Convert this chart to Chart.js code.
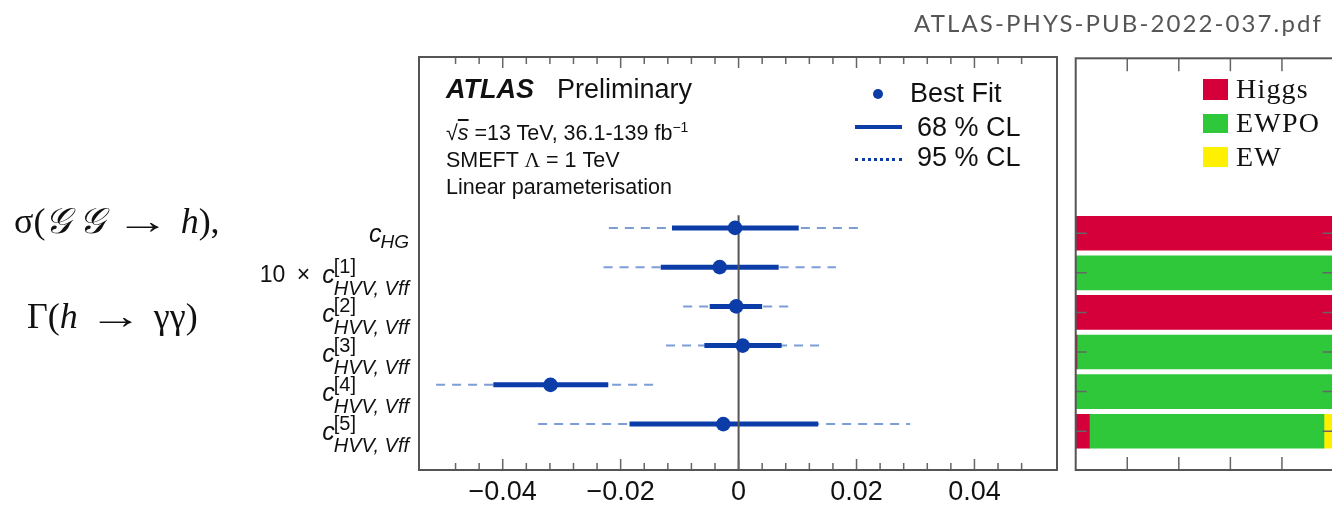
<!DOCTYPE html>
<html>
<head>
<meta charset="utf-8">
<script src="https://cdn.jsdelivr.net/npm/chart.js@4.4.1/dist/chart.umd.min.js"></script>
<style>
html, body { margin: 0; padding: 0; background: #fff; overflow: hidden; width: 1332px; height: 506px; }
#main { position: absolute; left: 0; top: 0; }
#share { position: absolute; left: 1040px; top: 0; }
.t { position: absolute; white-space: nowrap; line-height: 1; color: #111; font-family: "Liberation Sans", Arial, sans-serif; }
.serif { font-family: "Liberation Serif", "DejaVu Serif", serif; }
.box { position: absolute; }
.arr { display: inline-block; transform: scaleX(1.5); margin: 0 20px; }
.leg { font-size: 28px; letter-spacing: 1.2px; color: #111; }
</style>
</head>
<body>
<canvas id="main" width="1332" height="520"></canvas>
<canvas id="share" width="310" height="520"></canvas>

<div class="t" style="right:9px; top:11px; font-family:Lato,'Open Sans',sans-serif; font-size:24px; letter-spacing:2.1px; color:#555;">ATLAS-PHYS-PUB-2022-037.pdf</div>

<div class="t serif" style="left:14px; top:203px; font-size:36px;">σ(<i>𝒢</i>&#8201;<i>𝒢</i><span class="arr">&#8594;</span><i>h</i>),</div>
<div class="t serif" style="left:27px; top:298px; font-size:36px;">Γ(<i>h</i><span class="arr">&#8594;</span>γγ)</div>

<div class="t" style="left:446px; top:76px; font-size:27px; font-weight:bold; font-style:italic;">ATLAS</div>
<div class="t" style="left:557px; top:76px; font-size:27px;">Preliminary</div>
<div class="t" style="left:446px; top:120px; font-size:21.5px;">√<i style="text-decoration:overline;">s</i> =13 TeV, 36.1-139 fb<sup style="font-size:14px; vertical-align:8px;">−1</sup></div>
<div class="t" style="left:446px; top:150px; font-size:21.5px;">SMEFT <span class="serif">Λ</span> = 1 TeV</div>
<div class="t" style="left:446px; top:177px; font-size:21.5px;">Linear parameterisation</div>

<div class="box" style="left:873px; top:89px; width:10px; height:10px; border-radius:50%; background:#0b3ca8;"></div>
<div class="t" style="left:910px; top:80px; font-size:27px;">Best Fit</div>
<div class="box" style="left:855px; top:125px; width:47px; height:4px; background:#0b3ca8;"></div>
<div class="t" style="left:917px; top:114px; font-size:27px;">68 % CL</div>
<div class="box" style="left:855px; top:158px; width:47px; height:0; border-top:3px dotted #0b3ca8;"></div>
<div class="t" style="left:917px; top:144px; font-size:27px;">95 % CL</div>

<div class="box" style="left:1203px; top:79px; width:25px; height:21px; background:#d5003a;"></div>
<div class="t serif leg" style="left:1236px; top:75px;">Higgs</div>
<div class="box" style="left:1203px; top:114px; width:25px; height:19px; background:#2ec83a;"></div>
<div class="t serif leg" style="left:1236px; top:109px;">EWPO</div>
<div class="box" style="left:1203px; top:147px; width:25px; height:20px; background:#fff000;"></div>
<div class="t serif leg" style="left:1236px; top:143px;">EW</div>

<script>
// fitted Wilson coefficients, one entry per row (top to bottom)
const paramPrefix = ['', '10\u2002\u00d7', '', '', '', ''];
const paramSup = ['', '[1]', '[2]', '[3]', '[4]', '[5]'];
const paramSub = ['HG', 'HVV, Vff', 'HVV, Vff', 'HVV, Vff', 'HVV, Vff', 'HVV, Vff'];

const bestFit = [-0.0006, -0.0032, -0.0004, 0.0007, -0.0319, -0.0026];
const lo68 = [-0.0113, -0.0132, -0.0049, -0.0058, -0.0416, -0.0185];
const hi68 = [0.0102, 0.0068, 0.0040, 0.0073, -0.0221, 0.0135];
const lo95 = [-0.0220, -0.0229, -0.0094, -0.0123, -0.0513, -0.0340];
const hi95 = [0.0211, 0.0165, 0.0085, 0.0137, -0.0134, 0.0291];

// sensitivity share per row (right panel)
const shareHiggs = [1, 0, 1, 0.005, 0, 0.053];
const shareEWPO = [0, 1, 0, 0.995, 1, 0.91];
const shareEW = [0, 0, 0, 0, 0, 0.037];
const shareTicks = [0.2, 0.4, 0.6, 0.8];

const DARK = '#0b3ca8';
const LIGHT = '#7d9dd8';
const FONT = '"Liberation Sans", Arial, sans-serif';

Chart.defaults.font.family = FONT;

const isMajor = v => Math.abs(v / 0.02 - Math.round(v / 0.02)) < 1e-6;

const datasets = [];
datasets.push({
    label: 'Best Fit',
    data: bestFit.map((v, i) => ({ x: v, y: i })),
    pointRadius: 7.3,
    pointHoverRadius: 7.3,
    backgroundColor: DARK,
    borderWidth: 0,
    order: 0
});
datasets.push({
    label: 'zero',
    data: [{ x: 0, y: -0.32 }, { x: 0, y: 6.2 }],
    showLine: true,
    pointRadius: 0,
    borderColor: '#555',
    borderWidth: 2,
    order: 1
});
bestFit.forEach((_, i) => {
    datasets.push({
        label: '68 % CL',
        data: [{ x: lo68[i], y: i }, { x: hi68[i], y: i }],
        showLine: true,
        pointRadius: 0,
        borderColor: DARK,
        borderWidth: 5,
        borderCapStyle: 'butt',
        order: 2
    });
    datasets.push({
        label: '95 % CL',
        data: [{ x: lo95[i], y: i }, { x: hi95[i], y: i }],
        showLine: true,
        pointRadius: 0,
        borderColor: LIGHT,
        borderWidth: 2,
        borderDash: [9, 7],
        order: 3
    });
});

const frameMain = {
    id: 'frameMain',
    afterDraw(chart) {
        const { ctx, chartArea: a, scales: { x, y } } = chart;
        ctx.save();
        ctx.strokeStyle = '#666';
        ctx.lineWidth = 1.5;
        x.ticks.forEach(t => {
            const px = x.getPixelForValue(t.value);
            if (px <= a.left + 2 || px >= a.right - 2) return;
            const len = isMajor(t.value) ? 11 : 7;
            ctx.beginPath();
            ctx.moveTo(px, a.bottom); ctx.lineTo(px, a.bottom - len);
            ctx.moveTo(px, a.top); ctx.lineTo(px, a.top + len);
            ctx.stroke();
        });
        ctx.strokeStyle = '#555';
        ctx.lineWidth = 2;
        ctx.strokeRect(a.left, a.top, a.right - a.left, a.bottom - a.top);

        // parameter names
        ctx.fillStyle = '#111';
        ctx.textBaseline = 'alphabetic';
        const right = a.left - 10;
        paramSub.forEach((sub, i) => {
            const py = y.getPixelForValue(i);
            if (paramSup[i]) {
                ctx.font = 'italic 20px ' + FONT;
                const w = ctx.measureText(sub).width;
                const subLeft = right - w;
                ctx.textAlign = 'left';
                ctx.fillText(sub, subLeft, py + 28);
                ctx.font = '20px ' + FONT;
                ctx.fillText(paramSup[i], subLeft, py + 6);
                ctx.font = 'italic 25px ' + FONT;
                ctx.textAlign = 'right';
                ctx.fillText('c', subLeft + 1, py + 16);
                const cw = ctx.measureText('c').width;
                if (paramPrefix[i]) {
                    ctx.font = '23px ' + FONT;
                    ctx.fillText(paramPrefix[i], subLeft + 1 - cw - 12, py + 15);
                }
            } else {
                ctx.font = 'italic 19px ' + FONT;
                const w = ctx.measureText(sub).width;
                const subLeft = right - w;
                ctx.textAlign = 'left';
                ctx.fillText(sub, subLeft, py + 20);
                ctx.font = 'italic 25px ' + FONT;
                ctx.textAlign = 'right';
                ctx.fillText('c', subLeft + 1, py + 14);
            }
        });
        ctx.restore();
    }
};

new Chart(document.getElementById('main'), {
    type: 'scatter',
    data: { datasets },
    options: {
        responsive: false,
        animation: false,
        devicePixelRatio: 1,
        layout: { padding: { left: 419, right: 275, top: 57, bottom: 5.6 } },
        plugins: { legend: { display: false }, tooltip: { enabled: false } },
        scales: {
            x: {
                type: 'linear',
                min: -0.0542,
                max: 0.054,
                grid: { display: false, drawTicks: false },
                border: { display: false },
                ticks: {
                    stepSize: 0.004,
                    autoSkip: false,
                    maxRotation: 0,
                    padding: 6,
                    color: '#111',
                    font: { size: 27 },
                    callback: v => {
                        if (!isMajor(v)) return '';
                        if (Math.abs(v) < 1e-9) return '0';
                        return (v < 0 ? '\u2212' : '') + Math.abs(v).toFixed(2);
                    }
                }
            },
            y: {
                type: 'linear',
                min: -4.356,
                max: 6.17,
                reverse: true,
                display: false
            }
        }
    },
    plugins: [frameMain]
});

const frameShare = {
    id: 'frameShare',
    afterDraw(chart) {
        const { ctx, chartArea: a, scales: { x, y } } = chart;
        ctx.save();
        ctx.strokeStyle = '#666';
        ctx.lineWidth = 1.5;
        ctx.beginPath();
        shareTicks.forEach(v => {
            const px = x.getPixelForValue(v);
            ctx.moveTo(px, a.bottom); ctx.lineTo(px, a.bottom - 13);
            ctx.moveTo(px, a.top); ctx.lineTo(px, a.top + 13);
        });
        shareHiggs.forEach((_, i) => {
            const py = y.getPixelForValue(i);
            ctx.moveTo(a.left, py); ctx.lineTo(a.left + 11, py);
            ctx.moveTo(a.right, py); ctx.lineTo(a.right - 11, py);
        });
        ctx.stroke();
        ctx.strokeStyle = '#555';
        ctx.lineWidth = 2;
        ctx.strokeRect(a.left, a.top, a.right - a.left, a.bottom - a.top);
        ctx.restore();
    }
};

const bar = (label, values, color) => ({
    label,
    data: values.map((v, i) => ({ x: v, y: i })),
    backgroundColor: color,
    borderWidth: 0,
    barThickness: 34
});

new Chart(document.getElementById('share'), {
    type: 'bar',
    data: {
        datasets: [
            bar('Higgs', shareHiggs, '#d5003a'),
            bar('EWPO', shareEWPO, '#2ec83a'),
            bar('EW', shareEW, '#fff000')
        ]
    },
    options: {
        indexAxis: 'y',
        responsive: false,
        animation: false,
        devicePixelRatio: 1,
        layout: { padding: { left: 35.7, right: 16.5, top: 58.3, bottom: 50 } },
        plugins: { legend: { display: false }, tooltip: { enabled: false } },
        scales: {
            x: { type: 'linear', min: 0, max: 1, stacked: true, display: false },
            y: { type: 'linear', min: -4.42, max: 5.98, reverse: true, stacked: true, offset: false, display: false }
        }
    },
    plugins: [frameShare]
});
</script>
</body>
</html>
